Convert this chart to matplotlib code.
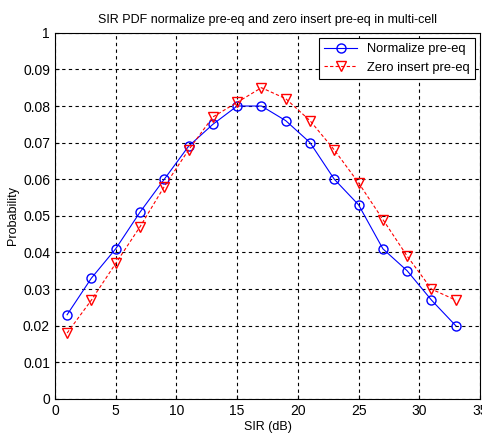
import numpy as np
import matplotlib.pyplot as plt

plt.rcParams['font.family'] = ['Liberation Sans', 'DejaVu Sans']

sir = [1, 3, 5, 7, 9, 11, 13, 15, 17, 19, 21, 23, 25, 27, 29, 31, 33]
normalize = [0.023, 0.033, 0.041, 0.051, 0.060, 0.069, 0.075, 0.080, 0.080,
             0.076, 0.070, 0.060, 0.053, 0.041, 0.035, 0.027, 0.020]
zero_insert = [0.018, 0.027, 0.037, 0.047, 0.058, 0.068, 0.077, 0.081, 0.085,
               0.082, 0.076, 0.068, 0.059, 0.049, 0.039, 0.030, 0.027]

yticks = [0, 0.01, 0.02, 0.03, 0.04, 0.05, 0.06, 0.07, 0.08, 0.09, 0.1]
ytick_labels = ['0', '0.01', '0.02', '0.03', '0.04', '0.05', '0.06', '0.07',
                '0.08', '0.09', '1']

fig = plt.figure(figsize=(4.82, 4.37), dpi=100)
ax = fig.add_axes([0.114, 0.087, 0.882, 0.838])

ax.plot(sir, normalize, color='blue', linestyle='-', linewidth=0.8,
        marker='o', markersize=6.5, markerfacecolor='none',
        markeredgewidth=1.0, label='Normalize pre-eq')
ax.plot(sir, zero_insert, color='red', linestyle='--', dashes=(3, 2),
        linewidth=0.8, marker='v', markersize=7.5, markerfacecolor='none',
        markeredgewidth=1.0, label='Zero insert pre-eq')

ax.set_xlim(0, 35)
ax.set_ylim(0, 0.1)
ax.set_xticks(np.arange(0, 36, 5))
ax.set_yticks(yticks)
ax.set_yticklabels(ytick_labels)
ax.grid(True, color='black', linestyle=(0, (3, 3)), linewidth=0.8)
ax.tick_params(direction='in', labelsize=10, length=3)
for s in ax.spines.values():
    s.set_linewidth(0.8)

ax.set_title('SIR PDF normalize pre-eq and zero insert pre-eq in multi-cell',
             fontsize=9, pad=7)
ax.set_xlabel('SIR (dB)', fontsize=9, labelpad=2)
ax.set_ylabel('Probability', fontsize=9, labelpad=3)

leg = ax.legend(loc='upper right', fontsize=9.3, fancybox=False,
                edgecolor='black', framealpha=1, borderaxespad=0.4,
                handlelength=2.5)
leg.get_frame().set_linewidth(0.8)

fig.savefig('out.png', dpi=100)
